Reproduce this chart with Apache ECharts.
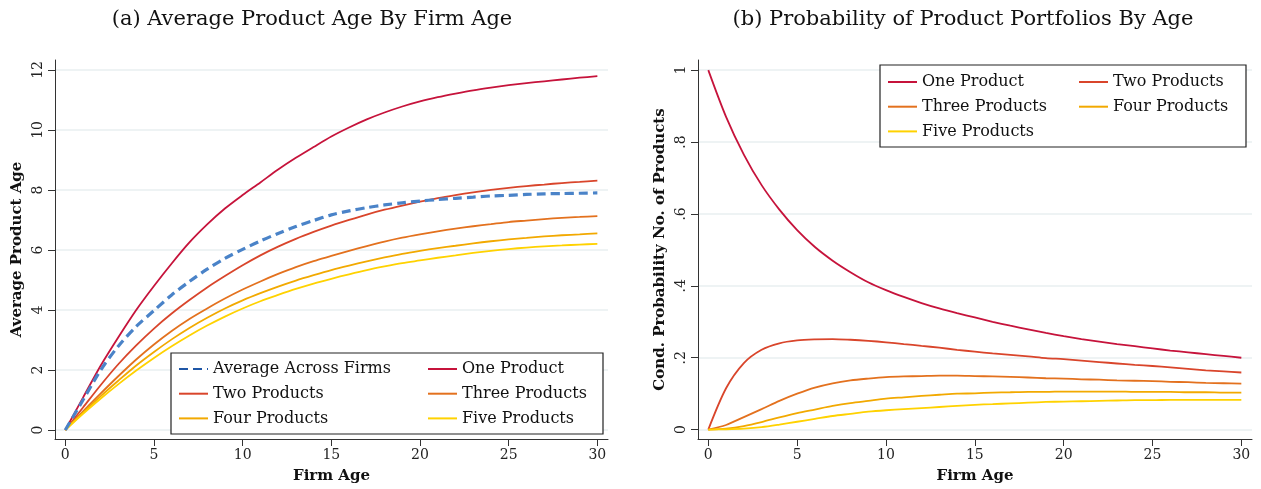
<!DOCTYPE html>
<html>
<head>
<meta charset="utf-8">
<script src="https://cdn.jsdelivr.net/npm/echarts@6/dist/echarts.min.js"></script>
<style>
  html, body { margin: 0; padding: 0; background: #fff; }
  #chart { width: 1261px; height: 489px; }
</style>
</head>
<body>
<div id="chart"></div>
<script>
// Firm age in years (shared x values for both panels)
const firmAge = [0,1,2,3,4,5,6,7,8,9,10,11,12,13,14,15,16,17,18,19,20,21,22,23,24,25,26,27,28,29,30];

// Panel (a): average product age by firm age
const avgAcrossFirms = [0,1.0,2.0,2.8,3.45,3.98,4.5,4.95,5.36,5.72,6.02,6.3,6.55,6.78,6.98,7.17,7.3,7.41,7.5,7.57,7.63,7.68,7.72,7.76,7.8,7.82,7.85,7.87,7.88,7.89,7.9];
const ageOne   = [0,1.08,2.15,3.1,4.0,4.8,5.55,6.25,6.85,7.38,7.83,8.25,8.68,9.07,9.43,9.78,10.08,10.35,10.58,10.78,10.95,11.09,11.21,11.32,11.41,11.49,11.56,11.62,11.68,11.74,11.79];
const ageTwo   = [0,0.75,1.5,2.2,2.82,3.38,3.88,4.33,4.75,5.13,5.49,5.82,6.11,6.37,6.6,6.81,7.0,7.18,7.34,7.48,7.61,7.73,7.83,7.92,8.0,8.07,8.13,8.18,8.23,8.27,8.31];
const ageThree = [0,0.62,1.22,1.8,2.35,2.85,3.3,3.7,4.05,4.38,4.68,4.95,5.2,5.43,5.63,5.8,5.97,6.13,6.28,6.41,6.52,6.62,6.71,6.79,6.86,6.93,6.98,7.03,7.07,7.1,7.13];
const ageFour  = [0,0.58,1.13,1.65,2.15,2.6,3.02,3.4,3.74,4.05,4.32,4.56,4.78,4.98,5.16,5.33,5.48,5.62,5.75,5.87,5.97,6.06,6.14,6.22,6.29,6.35,6.4,6.45,6.49,6.52,6.55];
const ageFive  = [0,0.54,1.05,1.53,1.98,2.4,2.79,3.15,3.48,3.78,4.05,4.29,4.5,4.7,4.88,5.04,5.19,5.33,5.45,5.56,5.65,5.74,5.82,5.9,5.97,6.03,6.08,6.12,6.15,6.18,6.2];

// Panel (b): conditional probability of the number of products
const probOne   = [1.0,0.87,0.765,0.68,0.612,0.555,0.508,0.47,0.438,0.41,0.388,0.369,0.352,0.337,0.324,0.312,0.3,0.289,0.279,0.269,0.26,0.252,0.245,0.238,0.232,0.226,0.22,0.215,0.21,0.205,0.2];
const probTwo   = [0,0.115,0.185,0.222,0.24,0.248,0.251,0.252,0.25,0.247,0.243,0.238,0.233,0.228,0.222,0.217,0.212,0.208,0.204,0.199,0.196,0.192,0.188,0.184,0.18,0.177,0.173,0.169,0.165,0.162,0.159];
const probThree = [0,0.013,0.035,0.057,0.08,0.1,0.117,0.129,0.137,0.142,0.146,0.148,0.149,0.15,0.15,0.149,0.148,0.147,0.145,0.143,0.142,0.14,0.139,0.137,0.136,0.135,0.133,0.132,0.13,0.129,0.128];
const probFour  = [0,0.003,0.01,0.021,0.034,0.046,0.056,0.066,0.074,0.08,0.086,0.09,0.094,0.097,0.1,0.101,0.103,0.104,0.105,0.105,0.106,0.106,0.106,0.106,0.105,0.105,0.105,0.104,0.104,0.103,0.103];
const probFive  = [0,0.001,0.003,0.007,0.014,0.022,0.03,0.038,0.044,0.05,0.054,0.057,0.06,0.063,0.066,0.069,0.071,0.073,0.075,0.077,0.078,0.079,0.08,0.081,0.082,0.082,0.083,0.083,0.083,0.083,0.083];

// Tick values and their labels
const xTicks = [0,5,10,15,20,25,30];
const ageTicks = [0,2,4,6,8,10,12];
const ageTickLabels = ['0','2','4','6','8','10','12'];
const probTicks = [0,0.2,0.4,0.6,0.8,1];
const probTickLabels = ['0','.2','.4','.6','.8','1'];

const FONT = 'DejaVu Serif';
const C = {
  avg: '#4a83c8',
  one: '#c6133b',
  two: '#d9452b',
  three: '#e3711e',
  four: '#f2a900',
  five: '#ffd200'
};

function pairs(ys) { return firmAge.map((x, i) => [x, ys[i]]); }

function xAxisFor(grid) {
  return {
    type: 'value', gridIndex: grid, min: -0.58, max: 30.6,
    name: 'Firm Age', nameLocation: 'middle', nameGap: 30,
    nameTextStyle: { fontFamily: FONT, fontSize: 15, fontWeight: 'bold', color: '#111' },
    axisLine: { show: true, onZero: false, lineStyle: { color: '#333', width: 1 } },
    axisTick: { show: true, length: 7, customValues: xTicks, lineStyle: { color: '#333' } },
    axisLabel: { customValues: xTicks, fontFamily: FONT, fontSize: 14, color: '#222', margin: 9 },
    splitLine: { show: false }
  };
}

function yAxisFor(grid, min, max, ticks, labels, name, gap) {
  return {
    type: 'value', gridIndex: grid, min: min, max: max,
    name: name, nameLocation: 'middle', nameGap: gap,
    nameTextStyle: { fontFamily: FONT, fontSize: 15, fontWeight: 'bold', color: '#111' },
    axisLine: { show: true, onZero: false, lineStyle: { color: '#333', width: 1 } },
    axisTick: { show: true, length: 7, customValues: ticks, lineStyle: { color: '#333' } },
    axisLabel: {
      customValues: ticks, rotate: 90, fontFamily: FONT, fontSize: 14, color: '#222', margin: 10,
      formatter: v => { const k = ticks.findIndex(t => Math.abs(t - v) < 1e-9); return k >= 0 ? labels[k] : ''; }
    },
    splitLine: { show: true, lineStyle: { color: '#e8eff0', width: 1.5 } }
  };
}

function line(name, xi, ys, color, dashed) {
  return {
    name: name, type: 'line', xAxisIndex: xi, yAxisIndex: xi,
    data: pairs(ys), smooth: 0.3, symbol: 'none',
    lineStyle: dashed ? { color: color, width: 3.2, type: [9, 5] } : { color: color, width: 1.8 },
    itemStyle: { color: color }, z: dashed ? 2.5 : 2
  };
}

// Legend keys are plain line samples (no marker dot)
const legendText = { fontFamily: FONT, fontSize: 16, lineHeight: 16, color: '#111' };
function legendBlock(left, top, names) {
  return {
    orient: 'vertical', left: left, top: top, data: names, z: 6,
    itemWidth: 29, itemHeight: 16, itemGap: 8.7, padding: 0,
    itemStyle: { opacity: 0 },
    textStyle: legendText, selectedMode: false
  };
}

const chart = echarts.init(document.getElementById('chart'), null, { renderer: 'canvas' });
chart.setOption({
  backgroundColor: '#fff',
  animation: false,
  title: [
    { text: '(a) Average Product Age By Firm Age', left: 307, top: 4, textAlign: 'center',
      textStyle: { fontFamily: FONT, fontSize: 21, fontWeight: 'normal', color: '#111' } },
    { text: '(b) Probability of Product Portfolios By Age', left: 958, top: 4, textAlign: 'center',
      textStyle: { fontFamily: FONT, fontSize: 21, fontWeight: 'normal', color: '#111' } }
  ],
  grid: [
    { left: 55, right: 653, top: 60, bottom: 50, containLabel: false },
    { left: 698, right: 9, top: 60, bottom: 50, containLabel: false }
  ],
  xAxis: [xAxisFor(0), xAxisFor(1)],
  yAxis: [
    yAxisFor(0, -0.3, 12.33, ageTicks, ageTickLabels, 'Average Product Age', 30),
    yAxisFor(1, -0.026, 1.028, probTicks, probTickLabels, 'Cond. Probability No. of Products', 30)
  ],
  legend: [
    legendBlock(178, 361, [{ name: 'Average Across Firms', lineStyle: { color: '#1f56a6' } }, 'Two Products ', 'Four Products ']),
    legendBlock(427, 361, ['One Product ', 'Three Products ', 'Five Products ']),
    legendBlock(887, 74, ['One Product', 'Three Products', 'Five Products']),
    legendBlock(1078, 74, ['Two Products', 'Four Products'])
  ],
  graphic: [
    { type: 'rect', shape: { x: 171, y: 353, width: 432, height: 81 },
      style: { fill: '#fff', stroke: '#222', lineWidth: 1.2 }, z: 3 },
    { type: 'rect', shape: { x: 880, y: 65, width: 366, height: 82 },
      style: { fill: '#fff', stroke: '#222', lineWidth: 1.2 }, z: 3 }
  ],
  series: [
    line('One Product ', 0, ageOne, C.one),
    line('Two Products ', 0, ageTwo, C.two),
    line('Three Products ', 0, ageThree, C.three),
    line('Four Products ', 0, ageFour, C.four),
    line('Five Products ', 0, ageFive, C.five),
    line('Average Across Firms', 0, avgAcrossFirms, C.avg, true),
    line('One Product', 1, probOne, C.one),
    line('Two Products', 1, probTwo, C.two),
    line('Three Products', 1, probThree, C.three),
    line('Four Products', 1, probFour, C.four),
    line('Five Products', 1, probFive, C.five)
  ]
});
</script>
</body>
</html>
